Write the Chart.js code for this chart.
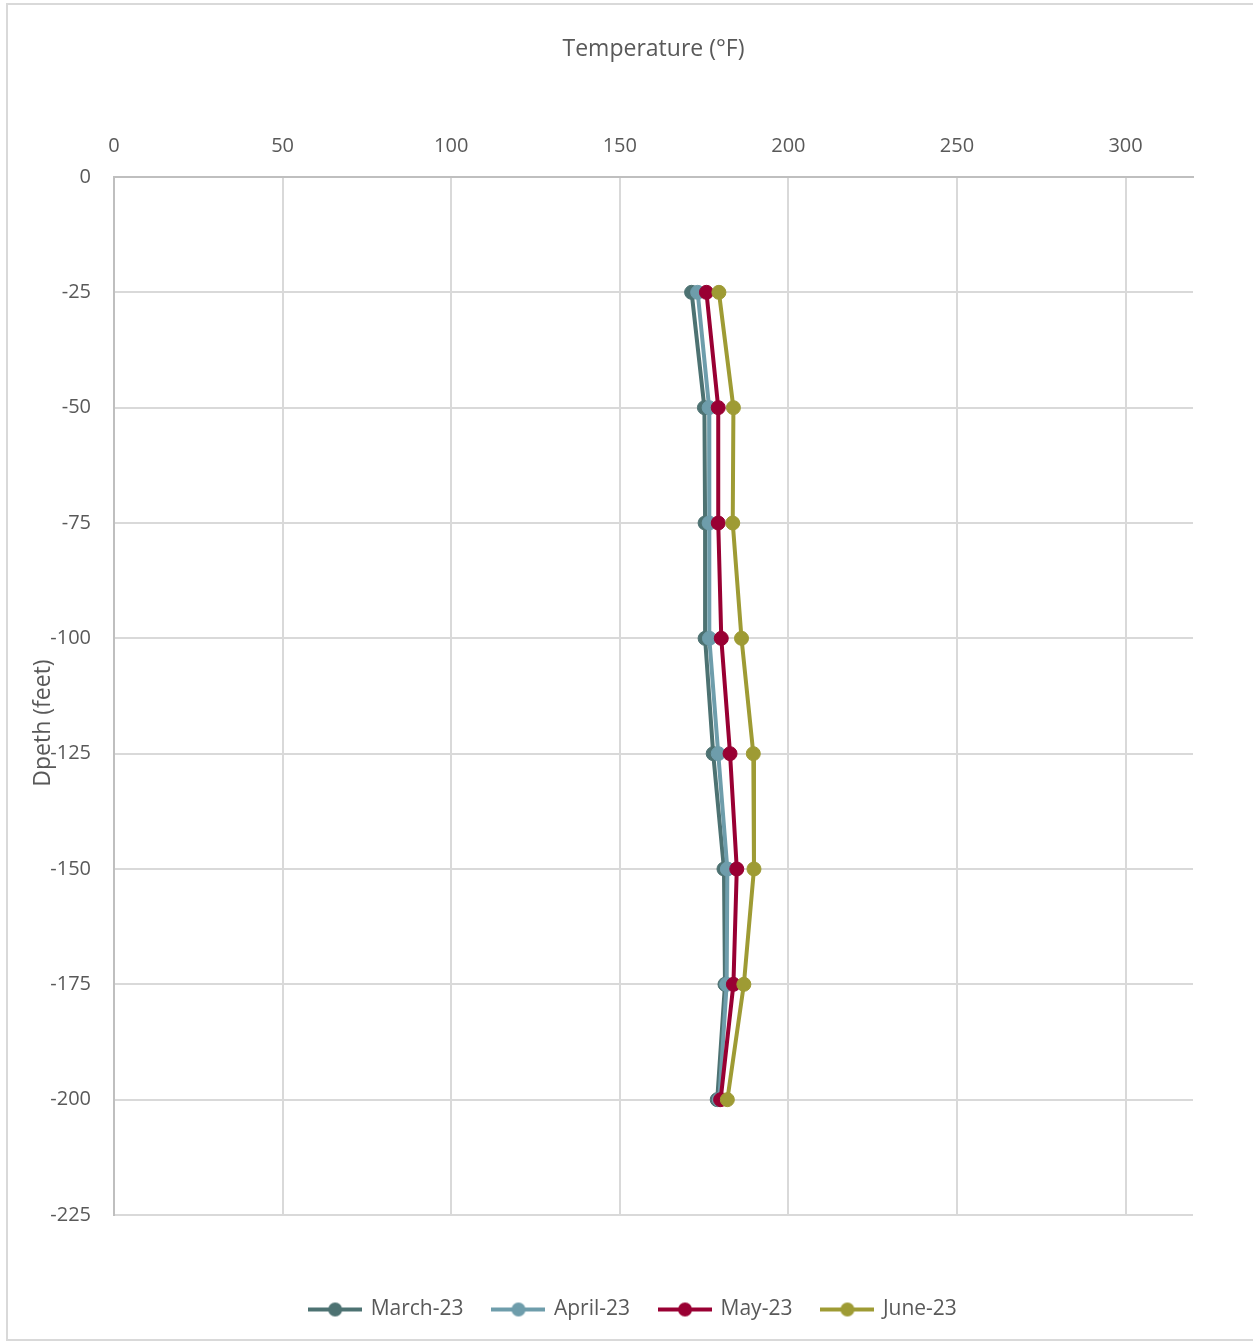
<!DOCTYPE html>
<html>
<head>
<meta charset="utf-8">
<script src="https://cdn.jsdelivr.net/npm/chart.js@4.4.1/dist/chart.umd.min.js"></script>
<style>
  html, body { margin: 0; padding: 0; background: #ffffff; }
  canvas { display: block; }
</style>
</head>
<body>
<canvas id="chart" width="1253" height="1342"></canvas>
<script>
// Depth below surface (feet) for each reading
const depths = [-25, -50, -75, -100, -125, -150, -175, -200];

// Temperature (°F) readings per month
const march23 = [171.3, 175.1, 175.3, 175.3, 177.7, 180.9, 181.2, 178.9];
const april23 = [173.1, 176.5, 176.5, 176.6, 179.2, 181.9, 181.7, 179.5];
const may23   = [175.7, 179.2, 179.2, 180.1, 182.7, 184.7, 183.7, 179.9];
const june23  = [179.4, 183.7, 183.5, 186.1, 189.6, 189.8, 186.8, 181.9];

const seriesNames = ['March-23', 'April-23', 'May-23', 'June-23'];
const seriesValues = [march23, april23, may23, june23];
const seriesColors = ['#4d7272', '#6e9dab', '#990033', '#9e9b34'];

const tempTicks = [0, 50, 100, 150, 200, 250, 300];
const depthTicks = [0, -25, -50, -75, -100, -125, -150, -175, -200, -225];

const textColor = '#595959';
const fontFamily = "'Open Sans', 'Noto Sans', sans-serif";
Chart.defaults.font.family = fontFamily;
Chart.defaults.color = textColor;

// Legend marker: a short line with a dot, like the series style
function legendMarker(color) {
  const c = document.createElement('canvas');
  c.width = 54; c.height = 16;
  const g = c.getContext('2d');
  g.strokeStyle = color; g.lineWidth = 4;
  g.beginPath(); g.moveTo(0, 8); g.lineTo(54, 8); g.stroke();
  g.fillStyle = color;
  g.beginPath(); g.arc(27, 8, 7, 0, Math.PI * 2); g.fill();
  return c;
}
const markers = seriesColors.map(legendMarker);

const datasets = seriesNames.map((name, i) => ({
  label: name,
  data: depths.map((d, k) => ({ x: seriesValues[i][k], y: d })),
  showLine: true,
  borderColor: seriesColors[i],
  backgroundColor: seriesColors[i],
  borderWidth: 4,
  pointRadius: 7,
  pointHoverRadius: 7,
  pointBorderWidth: 1,
  pointBorderColor: seriesColors[i],
  order: seriesNames.length - i
}));

// Outer frame around the whole chart
const framePlugin = {
  id: 'frame',
  beforeDraw(chart) {
    const ctx = chart.ctx;
    ctx.save();
    ctx.fillStyle = '#ffffff';
    ctx.fillRect(0, 0, chart.width, chart.height);
    ctx.strokeStyle = '#d9d9d9';
    ctx.lineWidth = 2;
    ctx.strokeRect(7, 4, chart.width + 20, 1336);
    ctx.restore();
  }
};

// Vertical axis title
const depthTitlePlugin = {
  id: 'depthTitle',
  afterDraw(chart) {
    const ctx = chart.ctx;
    ctx.save();
    ctx.translate(43, 723);
    ctx.rotate(-Math.PI / 2);
    ctx.fillStyle = textColor;
    ctx.font = "23px " + fontFamily;
    ctx.textAlign = 'center';
    ctx.textBaseline = 'middle';
    ctx.fillText('Dpeth (feet)', 0, 0);
    ctx.restore();
  }
};

new Chart(document.getElementById('chart'), {
  type: 'scatter',
  data: { datasets },
  plugins: [framePlugin, depthTitlePlugin],
  options: {
    responsive: false,
    animation: false,
    layout: { padding: { left: 14, right: 0, top: 0, bottom: 12 } },
    plugins: {
      tooltip: { enabled: false },
      legend: {
        position: 'bottom',
        maxHeight: 73,
        labels: {
          usePointStyle: true,
          pointStyleWidth: 50,
          padding: 30,
          color: textColor,
          font: { size: 21 },
          generateLabels(chart) {
            return chart.data.datasets.map((ds, i) => ({
              text: ds.label,
              fillStyle: ds.borderColor,
              strokeStyle: ds.borderColor,
              fontColor: textColor,
              lineWidth: 0,
              pointStyle: markers[i],
              hidden: false,
              datasetIndex: i
            }));
          }
        }
      }
    },
    scales: {
      x: {
        type: 'linear',
        position: 'top',
        min: 0,
        max: 320,
        afterBuildTicks(scale) {
          scale.ticks = tempTicks.map(v => ({ value: v }));
        },
        afterFit(scale) { scale.height = 177; },
        ticks: { font: { size: 20 }, color: textColor, padding: 19 },
        grid: { color: '#d9d9d9', lineWidth: 2, drawTicks: false },
        border: { color: '#bfbfbf', width: 2 },
        title: {
          display: true,
          text: 'Temperature (°F)',
          color: textColor,
          font: { size: 23 },
          padding: { top: 36, bottom: 0 }
        }
      },
      y: {
        type: 'linear',
        position: 'left',
        min: -225,
        max: 0,
        afterBuildTicks(scale) {
          scale.ticks = depthTicks.map(v => ({ value: v }));
        },
        afterFit(scale) { scale.width = 100; },
        ticks: { font: { size: 20 }, color: textColor, padding: 23 },
        grid: { color: '#d9d9d9', lineWidth: 2, drawTicks: false },
        border: { color: '#bfbfbf', width: 2 }
      },
      // spacer between plot area and legend
      xSpacer: {
        type: 'linear',
        position: 'bottom',
        display: true,
        ticks: { display: false },
        grid: { display: false, drawTicks: false },
        border: { display: false },
        afterFit(scale) { scale.height = 54; }
      },
      // spacer on the right of the plot area
      ySpacer: {
        type: 'linear',
        position: 'right',
        display: true,
        ticks: { display: false },
        grid: { display: false, drawTicks: false },
        border: { display: false },
        afterFit(scale) { scale.width = 60; }
      }
    }
  }
});
</script>
</body>
</html>
